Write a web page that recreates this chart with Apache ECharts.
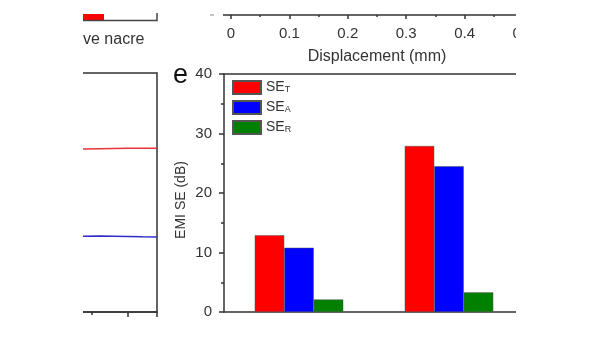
<!DOCTYPE html>
<html>
<head>
<meta charset="utf-8">
<script src="https://cdn.jsdelivr.net/npm/echarts@6/dist/echarts.min.js"></script>
<style>
html,body{margin:0;padding:0;background:#fff;}
#chart{width:600px;height:338px;}
</style>
</head>
<body>
<div id="chart"></div>
<script>
// ---- data ----
const categories = ['Sample 1', 'Sample 2'];
const seT = [12.9, 27.9];
const seA = [10.8, 24.5];
const seR = [2.1, 3.3];
const seNames = ['SE_T', 'SE_A', 'SE_R'];
const seSubs = {SE_T: 'T', SE_A: 'A', SE_R: 'R'};
const yTicksMin = 0, yTicksMax = 40, yTicksStep = 10;
const dispMin = 0, dispMax = 0.5, dispStep = 0.1;
const dispTitle = 'Displacement (mm)';
const yTitle = 'EMI SE (dB)';
const panelLetter = 'e';
const leftLegendText = 've nacre';
const lineX = [0, 0.2, 0.4, 0.6, 0.8, 1.0, 1.2, 1.4];
const redLine = [27.3, 27.32, 27.3, 27.34, 27.37, 27.4, 27.42, 27.42];
const blueLine = [12.72, 12.7, 12.69, 12.7, 12.66, 12.62, 12.58, 12.55];

const FONT = 'Liberation Sans, Arial, Helvetica, sans-serif';
const AX = '#333';

const chart = echarts.init(document.getElementById('chart'));
const option = {
  animation: false,
  backgroundColor: '#fff',
  textStyle: {fontFamily: FONT},
  grid: [
    {left: 224, right: 76, top: 74, bottom: 26, containLabel: false},
    {left: 231, right: 77, top: 0, bottom: 323, containLabel: false},
    {left: 56, right: 443, top: 73, bottom: 26, containLabel: false,
     show: true, borderColor: AX, borderWidth: 1.5}
  ],
  legend: {
    data: seNames,
    orient: 'vertical',
    left: 227, top: 75,
    itemWidth: 28, itemHeight: 13, itemGap: 5,
    icon: 'rect',
    formatter: function (n) { return 'SE{s|' + seSubs[n] + '}'; },
    textStyle: {
      fontFamily: FONT, fontSize: 14, color: AX, lineHeight: 13,
      rich: {s: {fontSize: 9, fontFamily: FONT, color: AX, verticalAlign: 'bottom', padding: [4, 0, 0, 0], lineHeight: 9}}
    }
  },
  xAxis: [
    {gridIndex: 0, type: 'category', data: categories, boundaryGap: true,
     axisLine: {lineStyle: {color: AX, width: 1.5}}, axisTick: {show: false}, axisLabel: {show: false}},
    {gridIndex: 0, type: 'category', data: categories, position: 'top',
     axisLine: {lineStyle: {color: AX, width: 1.5}}, axisTick: {show: false}, axisLabel: {show: false}},
    {gridIndex: 1, type: 'value', min: dispMin, max: dispMax, interval: dispStep,
     axisLine: {lineStyle: {color: AX, width: 1.5}},
     axisTick: {show: true, inside: false, length: 4, lineStyle: {color: AX, width: 1.5}},
     minorTick: {show: true, splitNumber: 2, length: 2, lineStyle: {color: AX, width: 1.5}},
     splitLine: {show: false},
     axisLabel: {fontSize: 15, color: AX, margin: 11, fontFamily: FONT,
       formatter: function (v) { return v === 0 ? '0' : String(+v.toFixed(1)); }},
     name: dispTitle, nameLocation: 'middle', nameGap: 34,
     nameTextStyle: {fontSize: 16, color: AX, fontFamily: FONT}},
    {gridIndex: 2, type: 'value', min: 0, max: 1.403, interval: 1,
     axisLine: {lineStyle: {color: AX, width: 1.5}},
     axisTick: {show: true, inside: false, length: 5, lineStyle: {color: AX, width: 1.5}},
     minorTick: {show: true, splitNumber: 2, length: 3, lineStyle: {color: AX, width: 1.5}},
     splitLine: {show: false}, axisLabel: {show: false}}
  ],
  yAxis: [
    {gridIndex: 0, type: 'value', min: yTicksMin, max: yTicksMax, interval: yTicksStep,
     axisLine: {show: true, lineStyle: {color: AX, width: 1.5}},
     axisTick: {show: true, inside: false, length: 5, lineStyle: {color: AX, width: 1.5}},
     minorTick: {show: true, splitNumber: 2, length: 3, lineStyle: {color: AX, width: 1.5}},
     splitLine: {show: false},
     axisLabel: {fontSize: 15, color: AX, margin: 12, fontFamily: FONT},
     name: yTitle, nameLocation: 'middle', nameGap: 36,
     nameTextStyle: {fontSize: 14, color: AX, fontFamily: FONT, padding: [0, 14, 0, 0]}},
    {gridIndex: 1, type: 'value', show: false},
    {gridIndex: 2, type: 'value', min: 0, max: 40, show: false}
  ],
  series: [
    {name: 'SE_T', type: 'bar', xAxisIndex: 0, yAxisIndex: 0, data: seT, barWidth: 29.5, barGap: '0%',
     itemStyle: {color: '#ff0000', borderColor: '#555', borderWidth: 0.5}},
    {name: 'SE_A', type: 'bar', xAxisIndex: 0, yAxisIndex: 0, data: seA, barWidth: 29.5, barGap: '0%',
     itemStyle: {color: '#0000ff', borderColor: '#555', borderWidth: 0.5}},
    {name: 'SE_R', type: 'bar', xAxisIndex: 0, yAxisIndex: 0, data: seR, barWidth: 29.5, barGap: '0%',
     itemStyle: {color: '#008000', borderColor: '#555', borderWidth: 0.5}},
    {name: 'redLine', type: 'line', xAxisIndex: 3, yAxisIndex: 2,
     data: lineX.map((x, i) => [x, redLine[i]]), showSymbol: false,
     lineStyle: {color: '#e8343a', width: 1.5}},
    {name: 'blueLine', type: 'line', xAxisIndex: 3, yAxisIndex: 2,
     data: lineX.map((x, i) => [x, blueLine[i]]), showSymbol: false,
     lineStyle: {color: '#2c2cc8', width: 1.5}}
  ],
  graphic: [
    {type: 'rect', shape: {x: 0, y: 0, width: 83, height: 338}, style: {fill: '#fff'}, z: 100, silent: true},
    {type: 'rect', shape: {x: 516, y: 0, width: 84, height: 338}, style: {fill: '#fff'}, z: 100, silent: true},
    {type: 'line', shape: {x1: 223, y1: 15, x2: 231, y2: 15}, style: {stroke: AX, lineWidth: 1.5}, z: 101},
    {type: 'line', shape: {x1: 210, y1: 15, x2: 214, y2: 15}, style: {stroke: '#888', lineWidth: 1}, z: 101},
    {type: 'rect', shape: {x: 83, y: 14, width: 21, height: 6}, style: {fill: '#ff0000'}, z: 101},
    {type: 'polyline', shape: {points: [[83, 20.5], [157, 20.5], [157, 13]]}, style: {stroke: '#444', lineWidth: 1.5, fill: null}, z: 101},
    {type: 'text', x: 83, y: 40, style: {text: leftLegendText, font: '16px ' + FONT, fill: AX, textAlign: 'left', textVerticalAlign: 'middle'}, z: 101},
    {type: 'text', x: 173, y: 76, style: {text: panelLetter, font: '27px ' + FONT, fill: '#111', textAlign: 'left', textVerticalAlign: 'middle'}, z: 101}
  ]
};
chart.setOption(option);
</script>
</body>
</html>
